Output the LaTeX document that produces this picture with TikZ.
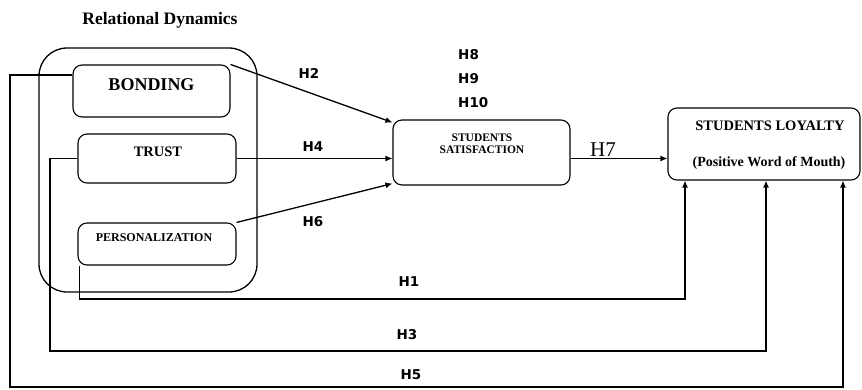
\documentclass[tikz,border=0pt]{standalone}
\usepackage{fontspec}
\setmainfont{Liberation Serif}
\newfontfamily\hfont{DejaVu Sans}
\usetikzlibrary{arrows.meta}
\tikzset{
  box/.style={draw, line width=1.1pt, rounded corners=9pt, inner sep=0pt},
  boxtxt/.style={font=\bfseries, inner sep=0pt, align=center},
  hlab/.style={font=\hfont\bfseries\fontsize{13.5}{13.5}\selectfont, inner sep=0pt},
  conn/.style={line width=1.3pt},
  arr/.style={conn, -{Latex[length=7pt,width=6pt]}}
}
\begin{document}
\begin{tikzpicture}[x=1pt,y=-1pt]
\useasboundingbox (0,0) rectangle (862,389);
% title
\node[boxtxt, font=\bfseries\fontsize{17.5}{17.5}\selectfont] (title) at (160,20) {Relational Dynamics};
% outer group
\node[box, line width=1.3pt, rounded corners=28pt, minimum width=218pt, minimum height=244pt] (grp) at (148,170) {};
% construct boxes
\node[box, minimum width=157pt, minimum height=52pt] (bond) at (151.5,91) {};
\node[boxtxt, font=\bfseries\fontsize{18}{18}\selectfont] (bondT) at (151.5,85) {BONDING};
\node[box, minimum width=158pt, minimum height=49pt] (trust) at (157,158.5) {};
\node[boxtxt, font=\bfseries\fontsize{14.5}{14.5}\selectfont] (trustT) at (158,152) {TRUST};
\node[box, minimum width=158pt, minimum height=42pt] (pers) at (157,244) {};
\node[boxtxt, font=\bfseries\fontsize{12}{12}\selectfont] (persT) at (154,238) {PERSONALIZATION};
\node[box, minimum width=177pt, minimum height=65pt] (sat) at (481.5,152.5) {};
\node[boxtxt, font=\bfseries\fontsize{11.5}{12}\selectfont] (satT) at (482,144) {STUDENTS\\SATISFACTION};
\node[box, minimum width=192pt, minimum height=72pt] (loy) at (764,144) {};
\node[boxtxt, font=\bfseries\fontsize{14.5}{14.5}\selectfont] (loyT1) at (770,126) {STUDENTS LOYALTY};
\node[boxtxt, font=\bfseries\fontsize{14}{14}\selectfont] (loyT2) at (769,163) {(Positive Word of Mouth)};
% connectors
\draw[arr] (bond.north east) -- ([yshift=-3pt]sat.north west);
\draw[arr] (trust.east) -- (trust.east -| sat.west);
\draw[arr] (pers.north east) -- ([yshift=2pt]sat.south west);
\draw[arr] ([yshift=-6pt]sat.east) -- ([yshift=-6pt]sat.east -| loy.west);
\draw[arr] ([xshift=2pt]pers.south west) |- (685,299) -- ([xshift=-79pt]loy.south);
\draw[arr] (trust.west) -| (50,351) -| ([xshift=2pt]loy.south);
\draw[arr] ([yshift=16pt]bond.west) -| (10,387) -| ([xshift=79pt]loy.south);
% labels
\node[hlab] (h2) at (309,73) {H2};
\node[hlab] (h4) at (313,147) {H4};
\node[hlab] (h6) at (313,222) {H6};
\node[hlab, anchor=west] (h8) at (458,55) {H8};
\node[hlab, anchor=west] (h9) at (458,79) {H9};
\node[hlab, anchor=west] (h10) at (458,103) {H10};
\node[font=\fontsize{21}{21}\selectfont, inner sep=0pt] (h7) at (603,150) {H7};
\node[hlab] (h1) at (409,282) {H1};
\node[hlab] (h3) at (407,335) {H3};
\node[hlab] (h5) at (411,375) {H5};
\end{tikzpicture}
\end{document}
